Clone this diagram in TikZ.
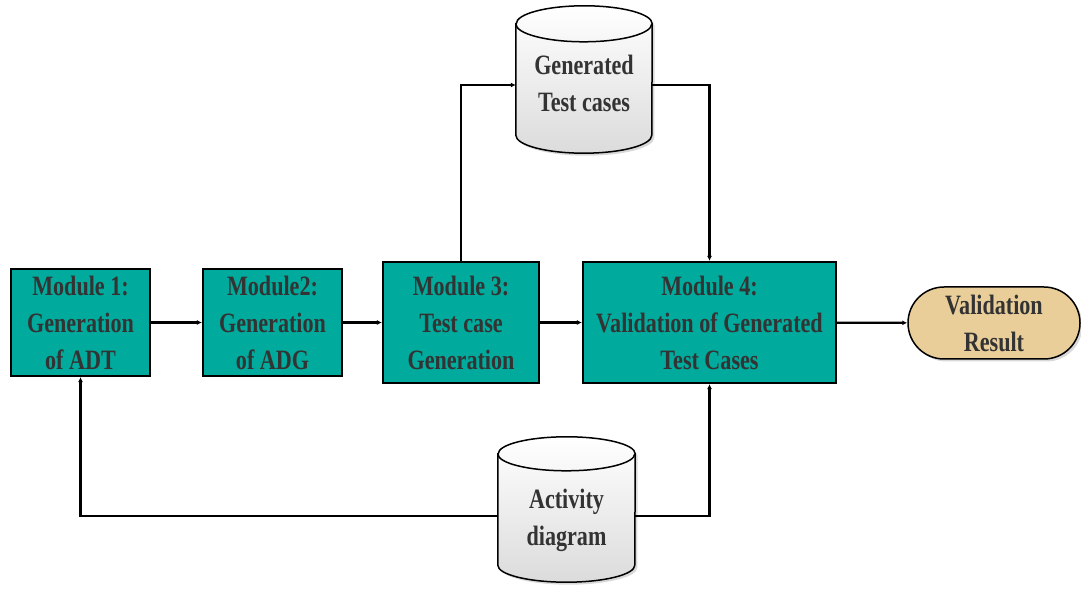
\documentclass[tikz,border=0pt]{standalone}
\usepackage{fontspec}
\usetikzlibrary{arrows.meta,shadows,calc}
\newfontfamily\lblfont[FakeStretch=0.79]{Liberation Serif}
\definecolor{modfill}{RGB}{0,170,156}
\definecolor{resfill}{RGB}{234,206,153}
\definecolor{txt}{RGB}{51,51,51}

% cylinder drawn around a named node: #1 node, #2 half width, #3 ellipse y radius
\newcommand{\drum}[3]{%
  \fill[gray,opacity=.3,transform canvas={shift={(2.5pt,-2.5pt)}}]
    ([yshift=-#3]#1.north west) -- ([yshift=#3]#1.south west)
    arc[start angle=180,end angle=360,x radius=#2,y radius=#3]
    -- ([yshift=-#3]#1.north east)
    arc[start angle=0,end angle=180,x radius=#2,y radius=#3] -- cycle;
  \shade[top color=white,bottom color=black!14,draw=black,line width=1.5pt]
    ([yshift=-#3]#1.north west) -- ([yshift=#3]#1.south west)
    arc[start angle=180,end angle=360,x radius=#2,y radius=#3]
    -- ([yshift=-#3]#1.north east)
    arc[start angle=0,end angle=180,x radius=#2,y radius=#3] -- cycle;
  \draw[line width=1.5pt] ([yshift=-#3]#1.north west)
    arc[start angle=180,end angle=360,x radius=#2,y radius=#3];
}

\tikzset{
  label text/.style={font=\lblfont\bfseries\fontsize{28}{37}\selectfont,text=txt,align=center},
  module/.style={label text,draw=black,line width=2.2pt,fill=modfill,inner sep=0pt},
  result/.style={label text,draw=black,line width=1.5pt,fill=resfill,rounded corners=36pt,
    minimum width=172pt,minimum height=72pt,inner sep=0pt,
    drop shadow={shadow xshift=2.5pt,shadow yshift=-2.5pt,opacity=.3,fill=gray}},
  store/.style={label text,inner sep=0pt},
  flow/.style={line width=2.2pt,-{Latex[length=5pt,width=5pt]}}
}

\begin{document}
\begin{tikzpicture}[x=1pt,y=1pt]
\useasboundingbox (0,0) rectangle (1081,594);

% process modules
\node[module,minimum width=139pt,minimum height=107pt] (m1) at (80.5,271.5)
  {Module 1:\\Generation\\of ADT};
\node[module,minimum width=139pt,minimum height=107pt] (m2) at (272.5,271.5)
  {Module2:\\Generation\\of ADG};
\node[module,minimum width=156pt,minimum height=121pt] (m3) at (461,271.5)
  {Module 3:\\Test case\\Generation};
\node[module,minimum width=253pt,minimum height=121pt] (m4) at (709.5,271.5)
  {Module 4:\\Validation of Generated\\Test Cases};
\node[result] (res) at (994,271) {Validation\\Result};

% data stores
\node[minimum width=136pt,minimum height=147pt,inner sep=0pt] (gtc) at (584,514.5) {};
\drum{gtc}{68pt}{18pt}
\node[store] at ([yshift=-4pt]gtc.center) {Generated\\Test cases};

\node[minimum width=137pt,minimum height=145pt,inner sep=0pt] (ad) at (566.5,84.5) {};
\drum{ad}{68.5pt}{17pt}
\node[store] at ([yshift=-11pt]ad.center) {Activity\\diagram};

% connectors
\draw[flow] (m1) -- (m2);
\draw[flow] (m2) -- (m3);
\draw[flow] (m3) -- (m4);
\draw[flow] (m4) -- (res);
\draw[flow] (m3.north) |- ([yshift=-5.5pt]gtc.west);
\draw[flow] ([yshift=-5.5pt]gtc.east) -| (m4.north);
\draw[flow] ([yshift=-6.5pt]ad.west) -| (m1.south);
\draw[flow] ([yshift=-6.5pt]ad.east) -| (m4.south);
\end{tikzpicture}
\end{document}
